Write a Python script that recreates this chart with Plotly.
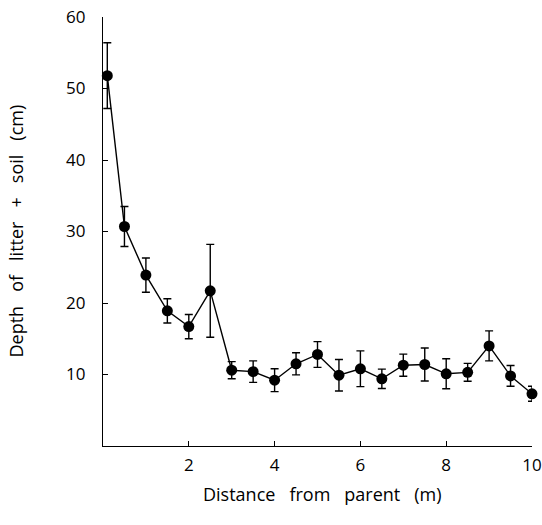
import plotly.graph_objects as go

distance = [0.1, 0.5, 1.0, 1.5, 2.0, 2.5, 3.0, 3.5, 4.0, 4.5, 5.0, 5.5, 6.0, 6.5, 7.0, 7.5, 8.0, 8.5, 9.0, 9.5, 10.0]
depth = [51.8, 30.7, 23.9, 18.9, 16.7, 21.7, 10.6, 10.4, 9.2, 11.5, 12.8, 9.9, 10.8, 9.4, 11.3, 11.4, 10.1, 10.3, 14.0, 9.8, 7.3]
err = [4.6, 2.8, 2.4, 1.7, 1.7, 6.5, 1.2, 1.5, 1.6, 1.55, 1.8, 2.2, 2.5, 1.35, 1.55, 2.3, 2.1, 1.25, 2.1, 1.45, 1.05]

x_ticks = [2, 4, 6, 8, 10]
y_ticks = [10, 20, 30, 40, 50, 60]

FONT = "Open Sans"
SP = "\u00a0" * 3

fig = go.Figure()
fig.add_trace(go.Scatter(
    x=distance, y=depth, mode="lines+markers",
    line=dict(color="black", width=1.4),
    marker=dict(color="black", size=11),
    error_y=dict(type="data", array=err, visible=True, color="black", thickness=1.4, width=4),
    showlegend=False, cliponaxis=False,
))

fig.update_layout(
    width=542, height=525,
    margin=dict(l=103, r=10, t=17, b=79, autoexpand=False),
    paper_bgcolor="white", plot_bgcolor="white",
    font=dict(family=FONT, color="black", size=17),
    xaxis=dict(range=[0, 10], tickvals=x_ticks, ticktext=[str(v) for v in x_ticks],
               showline=True, linecolor="black", linewidth=1.2, ticks="inside",
               ticklen=5, tickcolor="black", showgrid=False, zeroline=False,
               automargin=False,
               ticklabelstandoff=3, tickfont=dict(size=17, family=FONT)),
    yaxis=dict(range=[0, 60], tickvals=y_ticks, ticktext=[str(v) for v in y_ticks],
               showline=True, linecolor="black", linewidth=1.2, ticks="inside",
               ticklen=5, tickcolor="black", showgrid=False, zeroline=False,
               automargin=False,
               ticklabelstandoff=13, tickfont=dict(size=17, family=FONT)),
    annotations=[
        dict(text=SP.join(["Distance", "from", "parent", "(m)"]), xref="paper", yref="paper",
             x=(322 - 103) / (532 - 103), y=0, yshift=-48, xanchor="center", yanchor="middle",
             showarrow=False, font=dict(size=18, family=FONT)),
        dict(text=SP.join(["Depth", "of", "litter", "+", "soil", "(cm)"]), xref="paper", yref="paper",
             x=0, y=0.5, xshift=-88, xanchor="center", yanchor="middle", textangle=-90,
             showarrow=False, font=dict(size=18, family=FONT)),
    ],
)

fig.write_html("out.html")
